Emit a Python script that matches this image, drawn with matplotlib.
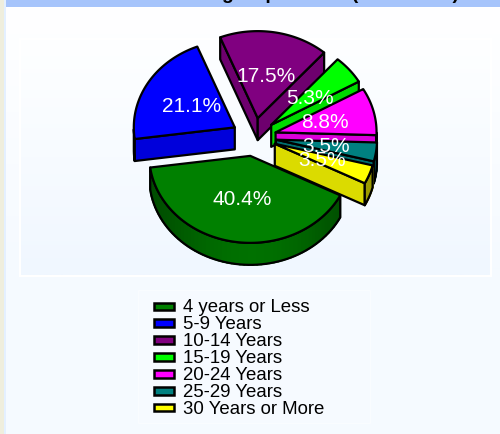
#!/usr/bin/env python3
import numpy as np
import matplotlib
matplotlib.use('Agg')
import matplotlib.pyplot as plt
from matplotlib.patches import Polygon, Rectangle
from matplotlib.colors import to_rgb

## data
labels = ['4 years or Less', '5-9 Years', '10-14 Years', '15-19 Years',
          '20-24 Years', '25-29 Years', '30 Years or More']
values = [40.4, 21.1, 17.5, 5.3, 8.8, 3.5, 3.5]
colors = ['#008000', '#0000ff', '#800080', '#00ff00', '#ff00ff', '#008080', '#ffff00']
title = 'Years of Service group Details (Total Staff)'

plt.rcParams['font.family'] = ['Liberation Sans', 'DejaVu Sans']

fig = plt.figure(figsize=(5, 4.35), dpi=100, facecolor='#f5faff')
ax = fig.add_axes([0, 0, 1, 1])
ax.axis('off')


def vgrad(top, bottom):
    t = np.linspace(0, 1, 200)[:, None, None]
    return np.array(to_rgb(top)) * (1 - t) + np.array(to_rgb(bottom)) * t


## page background
ax.imshow(vgrad('#ffffff', '#f5faff'), extent=[6, 500, 270, 8], aspect='auto', zorder=1)
ax.add_patch(Rectangle((20, 40), 471, 237, facecolor='none', edgecolor='#ffffff', lw=1.5, zorder=1.5))
ax.imshow(vgrad('#feffff', '#f0f7ff'), extent=[21, 490, 276, 40], aspect='auto', zorder=1.2)
ax.set_xlim(0, 500)
ax.set_ylim(435, 0)
ax.add_patch(Rectangle((0, 0), 4, 435, color='#efeedd', lw=0, zorder=2))
ax.add_patch(Rectangle((4, 0), 2, 435, color='#e4f0ff', lw=0, zorder=2))
ax.add_patch(Rectangle((6, 0), 494, 8, color='#a6c4fb', lw=0, zorder=2))
ax.text(262, -1, title, ha='center', va='baseline', fontsize=14, fontweight='bold',
        color='black', zorder=3)

## pie geometry
cx, cy = 254, 138
rx, ry = 101, 87
depth = 22
explode = 0.22
start = 333


def shade(color, k):
    return tuple(c * k for c in to_rgb(color))


def pt(x0, y0, ang, r=1.0):
    a = np.radians(ang)
    return x0 + r * rx * np.cos(a), y0 - r * ry * np.sin(a)


sweeps = [v / sum(values) * 360 for v in values]
a0s = start - np.concatenate(([0], np.cumsum(sweeps)[:-1]))
draw_order = [2, 1, 0, 3, 4, 5, 6]
line = dict(edgecolor='black', linewidth=1.6, joinstyle='round', zorder=4)

for i in draw_order:
    a0 = a0s[i]
    a1 = a0 - sweeps[i]
    mid = (a0 + a1) / 2
    x0, y0 = pt(cx, cy, mid, explode)
    col = colors[i]

    # cut faces
    for a, vis in ((a0, np.cos(np.radians(a0)) < 0), (a1, np.cos(np.radians(a1)) > 0)):
        if vis:
            xe, ye = pt(x0, y0, a)
            ax.add_patch(Polygon([(x0, y0), (xe, ye), (xe, ye + depth), (x0, y0 + depth)],
                                 facecolor=shade(col, 0.86), **line))

    # outer side, only the part turned to the viewer
    angs = np.linspace(a1, a0, 60)
    angs = angs[np.sin(np.radians(angs)) < 0]
    if len(angs) > 1:
        xs, ys = pt(x0, y0, angs)
        for j in range(len(angs) - 1):
            k = 0.6 + 0.28 * max(0, -np.sin(np.radians(angs[j]))) ** 3
            quad = [(xs[j], ys[j]), (xs[j + 1], ys[j + 1]),
                    (xs[j + 1], ys[j + 1] + depth), (xs[j], ys[j] + depth)]
            ax.add_patch(Polygon(quad, facecolor=shade(col, k), edgecolor=shade(col, k),
                                 linewidth=1.2, zorder=4))
        ax.add_patch(Polygon(np.r_[np.c_[xs, ys], np.c_[xs, ys + depth][::-1]],
                             facecolor='none', **line))

    # top face
    angs = np.linspace(a0, a1, 80)
    xs, ys = pt(x0, y0, angs)
    ax.add_patch(Polygon(np.r_[[(x0, y0)], np.c_[xs, ys]], facecolor=col, **line))

## slice labels
for i, v in enumerate(values):
    mid = a0s[i] - sweeps[i] / 2
    x0, y0 = pt(cx, cy, mid, explode)
    xl, yl = pt(x0, y0, mid, 0.5)
    ax.text(xl, yl, '%.1f%%' % v, color='white', fontsize=15, ha='center',
            va='center', zorder=6)

## legend
ax.add_patch(Rectangle((138, 291), 232, 133, facecolor='#f6faff', edgecolor='#f9fcff',
                       lw=1, zorder=2))
for i, lab in enumerate(labels):
    y = 308 + i * 16.9
    ax.add_patch(Rectangle((153.5, y - 4.5), 20, 7.5, facecolor=colors[i], edgecolor='black',
                           linewidth=1.8, zorder=4))
    ax.text(183, y, lab, color='black', fontsize=13.4, ha='left', va='center', zorder=5)

fig.savefig('out.png', dpi=100, facecolor=fig.get_facecolor())
